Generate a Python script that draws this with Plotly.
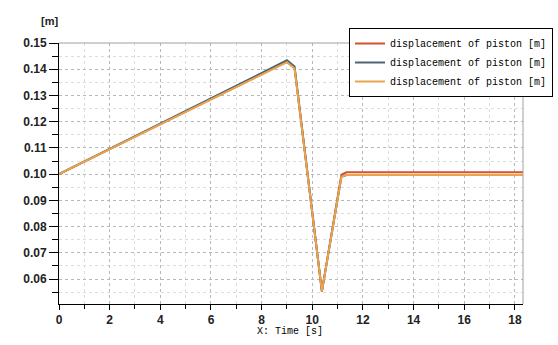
import plotly.graph_objects as go

# Data
time_s = [0, 9.0, 9.3, 10.38, 11.15, 11.35, 18.4]
disp_red = [0.100, 0.1428, 0.1405, 0.0553, 0.0998, 0.1007, 0.1007]
disp_blue = [0.100, 0.1434, 0.1410, 0.0553, 0.0990, 0.0997, 0.0997]
disp_orange = [0.100, 0.1427, 0.1403, 0.0553, 0.0990, 0.0997, 0.0997]

names = ["displacement of piston [m]"] * 3
colors = ["#d4502f", "#4c6474", "#eca44c"]
series = [disp_red, disp_blue, disp_orange]

x_ticks = [0, 2, 4, 6, 8, 10, 12, 14, 16, 18]
y_ticks = [0.06, 0.07, 0.08, 0.09, 0.10, 0.11, 0.12, 0.13, 0.14, 0.15]

fig = go.Figure()
for ys, c, n in zip(series, colors, names):
    fig.add_trace(go.Scatter(x=time_s, y=ys, mode="lines", name=n,
                             line=dict(color=c, width=2)))

W, H = 558, 345
L, R, T, B = 59, 35, 43, 41
pw, ph = W - L - R, H - T - B

tickfont = dict(family="Liberation Sans", size=12, color="#222222", weight="bold")

fig.update_layout(
    width=W, height=H,
    margin=dict(l=L, r=R, t=T, b=B, autoexpand=False),
    paper_bgcolor="white", plot_bgcolor="white",
    showlegend=True,
    legend=dict(xref="container", yref="container",
                x=553 / W, xanchor="right", y=1 - 28 / H, yanchor="top",
                bgcolor="white", bordercolor="black", borderwidth=1,
                font=dict(family="Liberation Mono", size=10, color="black"),
                tracegroupgap=0, itemwidth=30),
    xaxis=dict(range=[0, 18.32], tickvals=x_ticks, ticktext=[str(v) for v in x_ticks],
               showline=True, linecolor="black", linewidth=1,
               ticks="outside", ticklen=5, tickcolor="black",
               tickfont=tickfont, zeroline=False,
               showgrid=True, gridcolor="#b8b8b8", griddash="dot", gridwidth=1,
               minor=dict(dtick=1, ticks="outside", ticklen=4, tickcolor="black",
                          showgrid=True, gridcolor="#dcdcdc", griddash="dot")),
    yaxis=dict(range=[0.0505, 0.15], tickvals=y_ticks,
               ticktext=["%.2f" % v for v in y_ticks],
               showline=True, linecolor="black", linewidth=1,
               ticks="outside", ticklen=9, tickcolor="black",
               tickfont=tickfont, zeroline=False,
               showgrid=True, gridcolor="#b8b8b8", griddash="dot", gridwidth=1,
               minor=dict(dtick=0.005, tick0=0, ticks="outside", ticklen=6, tickcolor="black",
                          showgrid=True, gridcolor="#dcdcdc", griddash="dot")),
)

# grey border on top and right of the plot area
fig.add_shape(type="line", xref="paper", yref="paper", x0=0, x1=1, y0=1, y1=1,
              line=dict(color="#a0a0a0", width=1))
fig.add_shape(type="line", xref="paper", yref="paper", x0=1, x1=1, y0=0, y1=1,
              line=dict(color="#a0a0a0", width=1))

fig.add_annotation(text="<b>[m]</b>", xref="paper", yref="paper",
                   x=(49 - L) / pw, y=(H - B - 21) / ph, showarrow=False,
                   xanchor="center", yanchor="middle",
                   font=dict(family="Liberation Sans", size=11, color="#222222"))
fig.add_annotation(text="X: Time [s]", xref="paper", yref="paper",
                   x=(290 - L) / pw, y=-(331 - (H - B)) / ph, showarrow=False,
                   xanchor="center", yanchor="middle",
                   bgcolor="white", borderpad=0,
                   font=dict(family="Liberation Mono", size=10, color="black"))

fig.write_html("out.html")
